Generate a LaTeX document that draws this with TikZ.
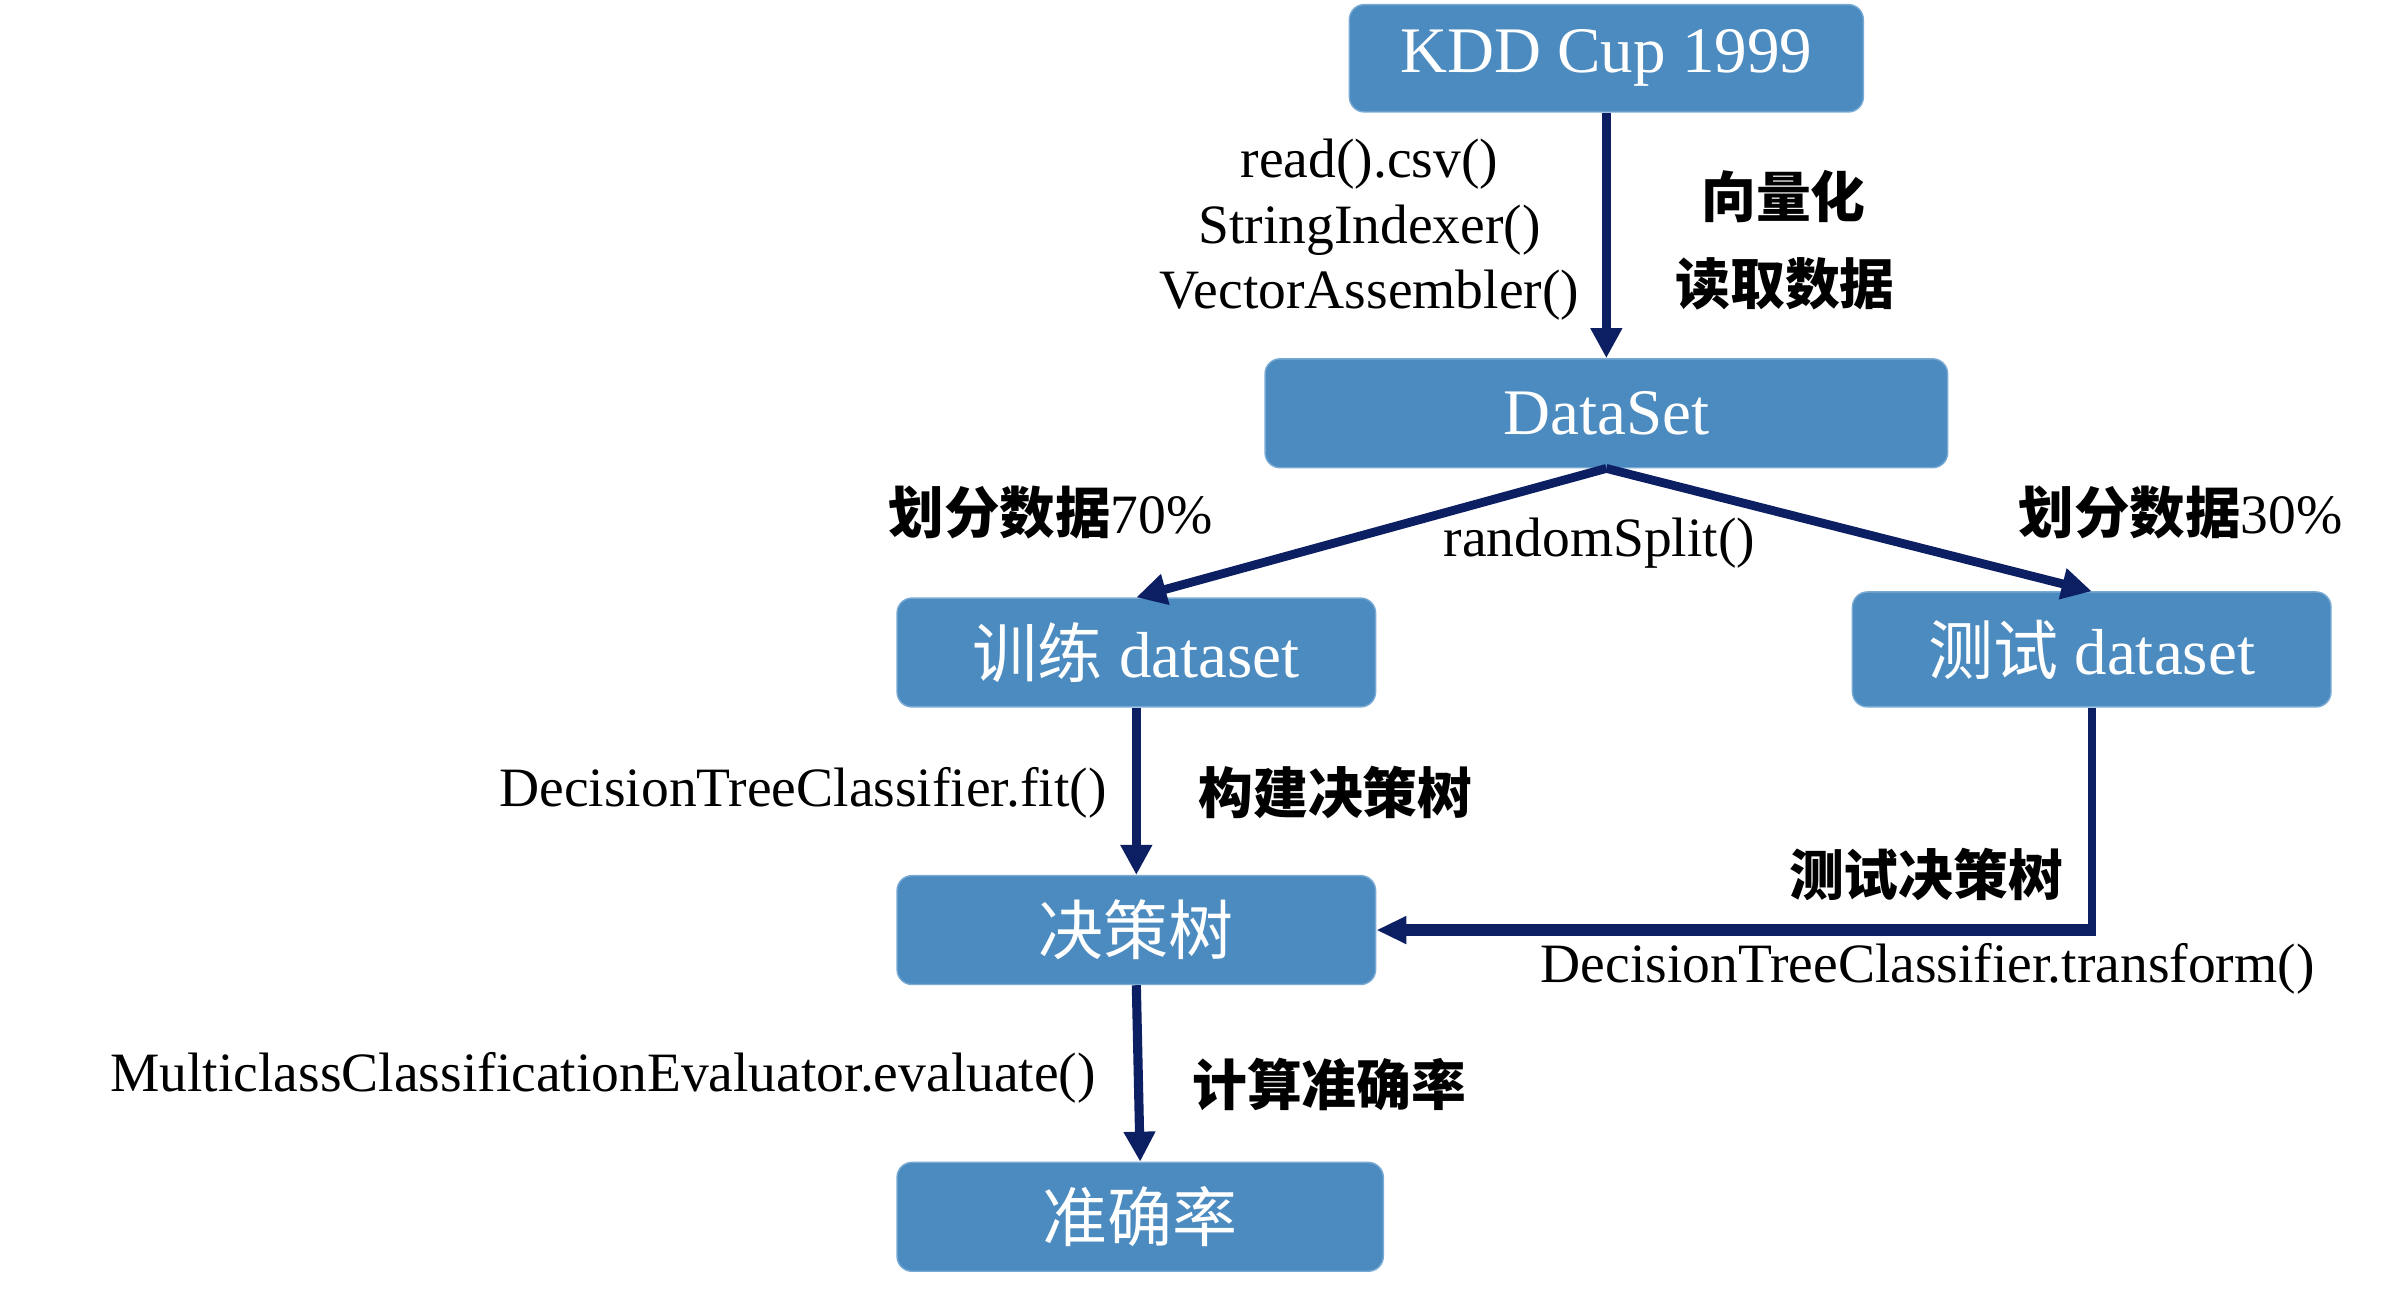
\documentclass[tikz,border=0pt]{standalone}
\usepackage{fontspec}
\setmainfont{Liberation Serif}
\newfontfamily\cjk{Noto Sans CJK SC}
\usetikzlibrary{arrows.meta}
\definecolor{boxfill}{RGB}{76,139,191}
\definecolor{boxedge}{RGB}{120,170,212}
\definecolor{arrowc}{RGB}{12,31,99}
\tikzset{
  box/.style={rectangle, rounded corners=0.15cm, fill=boxfill, draw=boxedge, line width=0.4pt,
    text=white, inner sep=0pt, font=\fontsize{18.5}{22}\selectfont},
  lbl/.style={inner sep=0pt, font=\fontsize{15.8}{18.6}\selectfont, text=black},
  clbl/.style={inner sep=0pt, font=\fontsize{15.6}{18.4}\selectfont\cjk\bfseries, text=black},
  conn/.style={draw=arrowc, line width=2.6pt, -{Triangle[length=3mm,width=3mm]}},
  diag/.style={draw=arrowc, line width=2.5pt, -{Triangle[length=3mm,width=3mm]}},
  plainline/.style={draw=arrowc, line width=2.4pt},
}
\begin{document}
\begin{tikzpicture}[x=0.01534cm, y=-0.01534cm]
\useasboundingbox (0cm,0cm) rectangle (24.01cm,-12.97cm);
% boxes
\node[box, minimum width=5.14cm, minimum height=1.074cm] (kdd) at (1047.5,38) {KDD Cup 1999};
\node[box, minimum width=6.826cm, minimum height=1.089cm] (ds) at (1047.5,269.5) {DataSet};
\node[box, minimum width=4.786cm, minimum height=1.089cm] (train) at (741,425.5) {{\cjk 训练} dataset};
\node[box, minimum width=4.786cm, minimum height=1.150cm] (test) at (1364,423.5) {{\cjk 测试} dataset};
\node[box, minimum width=4.786cm, minimum height=1.089cm] (tree) at (741,606.5) {\cjk 决策树};
\node[box, minimum width=4.863cm, minimum height=1.089cm] (acc) at (743.5,793.5) {\cjk 准确率};
% connectors
\draw[conn] (kdd.south) -- (ds.north);
\draw[diag] (ds.south) -- (train.north);
\draw[diag] (ds.south) -- (test.north);
\draw[conn] (train.south) -- (tree.north);
\coordinate (corner) at (test.south |- tree.east);
\draw[plainline] (test.south) -- ([yshift=-1.7pt]corner);
\draw[draw=arrowc, line width=3.4pt, -{Triangle[length=3mm,width=2.6mm]}] ([xshift=1.2pt]corner) -- (tree.east);
\draw[conn] (tree.south) -- (acc.north);
% labels
\node[lbl, align=center] (l1) at (893,150) {read().csv()\\StringIndexer()\\VectorAssembler()};
\node[clbl] (l2) at (1163,128) {向量化};
\node[clbl] (l3) at (1164,185) {读取数据};
\node[lbl] (l4) at (685,334) {{\cjk\bfseries 划分数据}70\%};
\node[lbl] (l5) at (1422,334) {{\cjk\bfseries 划分数据}30\%};
\node[lbl] (l6) at (1043,354) {randomSplit()};
\node[lbl, anchor=east] (l7) at (722,517) {DecisionTreeClassifier.fit()};
\node[clbl, anchor=west] (l8) at (781,517) {构建决策树};
\node[clbl] (l9) at (1256,570) {测试决策树};
\node[lbl] (l10) at (1257,632) {DecisionTreeClassifier.transform()};
\node[lbl, anchor=east] (l11) at (715,703) {MulticlassClassificationEvaluator.evaluate()};
\node[clbl, anchor=west] (l12) at (777,707) {计算准确率};
\end{tikzpicture}
\end{document}
